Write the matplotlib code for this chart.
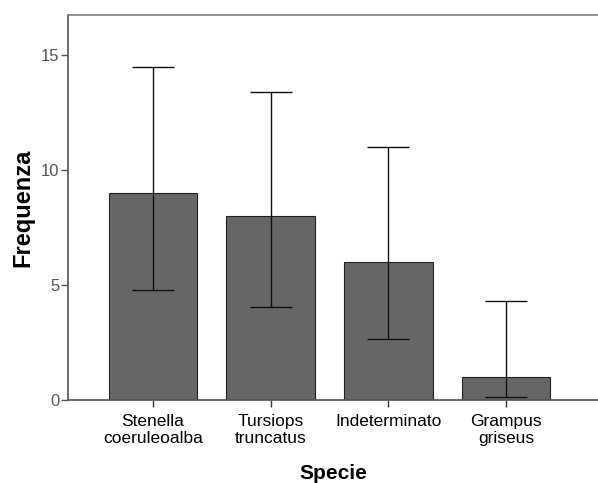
import matplotlib
matplotlib.use('Agg')
import matplotlib.pyplot as plt

# Dati
specie = ['Stenella\ncoeruleoalba', 'Tursiops\ntruncatus', 'Indeterminato', 'Grampus\ngriseus']
frequenza = [9, 8, 6, 1]
ci_basso = [4.8, 4.05, 2.65, 0.12]
ci_alto = [14.5, 13.38, 11.0, 4.3]

plt.rcParams['font.family'] = ['Liberation Sans', 'DejaVu Sans']

fig = plt.figure(figsize=(5.98, 4.83), dpi=100)
ax = fig.add_axes([68 / 598, 83 / 483, 530 / 598, 385 / 483])

x = list(range(len(specie)))
err_low = [f - lo for f, lo in zip(frequenza, ci_basso)]
err_high = [hi - f for f, hi in zip(frequenza, ci_alto)]

ax.bar(x, frequenza, width=0.75, color='#666666', edgecolor='#222222', linewidth=0.8, zorder=2)
ax.errorbar(x, frequenza, yerr=[err_low, err_high], fmt='none', ecolor='#111111',
            elinewidth=1.0, capsize=15, capthick=1.0, zorder=3)

ax.set_xlim(-0.72, 3.78)
ax.set_ylim(0, 16.74)
ax.set_yticks([0, 5, 10, 15])
ax.set_xticks(x)
ax.set_xticklabels(specie, fontsize=12.5, color='black', linespacing=1.15)
ax.tick_params(axis='y', labelsize=12, labelcolor='#555555', color='#555555',
               length=5, width=1, pad=1)
ax.tick_params(axis='x', color='#333333', length=5, width=1, pad=5)

for side in ['left', 'bottom', 'top']:
  ax.spines[side].set_color('#555555')
  ax.spines[side].set_linewidth(1.2)
ax.spines['right'].set_visible(False)
ax.spines['top'].set_color('#808080')

ax.set_ylabel('Frequenza', fontsize=17, fontweight='bold', labelpad=5)
ax.set_xlabel('Specie', fontsize=15, fontweight='bold', labelpad=13)

fig.savefig('out.png', dpi=100)
